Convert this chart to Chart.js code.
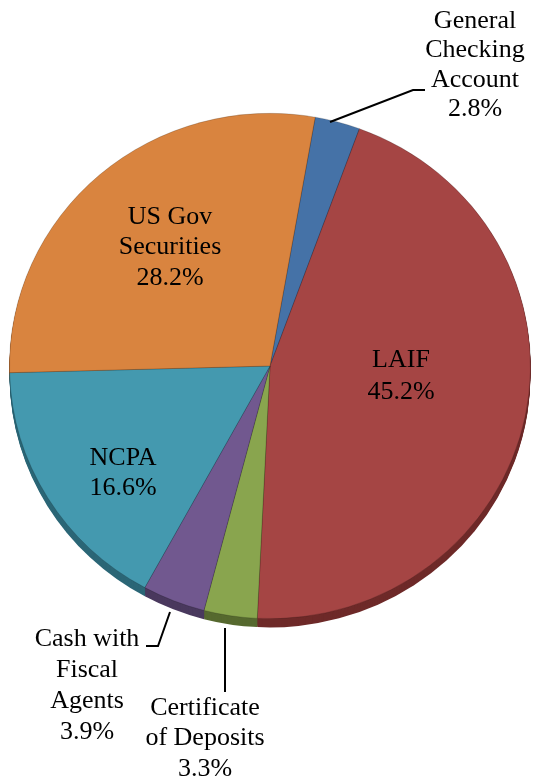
<!DOCTYPE html>
<html>
<head>
<meta charset="utf-8">
<script src="https://cdn.jsdelivr.net/npm/chart.js@4/dist/chart.umd.min.js"></script>
<style>
html,body{margin:0;padding:0;background:#fff;}
#wrap{width:535px;height:783px;position:relative;}
</style>
</head>
<body>
<div id="wrap"><canvas id="c" width="535" height="783"></canvas></div>
<script>
const categories = ["General Checking Account", "LAIF", "Certificate of Deposits", "Cash with Fiscal Agents", "NCPA", "US Gov Securities"];
const shares = [2.8, 45.2, 3.3, 3.9, 16.6, 28.2];
const labelLines = [
  ["General", "Checking", "Account", "2.8%"],
  ["LAIF", "45.2%"],
  ["Certificate", "of Deposits", "3.3%"],
  ["Cash with", "Fiscal", "Agents", "3.9%"],
  ["NCPA", "16.6%"],
  ["US Gov", "Securities", "28.2%"]
];
const colors = ["#4572A7", "#A54544", "#89A54E", "#71588F", "#4499AF", "#D9843F"];
const sideColors = ["#2E4D73", "#6E2A29", "#56692F", "#4A395E", "#2B6676", "#98592A"];

// label layout (text centre of first line, line spacing) and leader lines
const labelPos = [
  {x: 475, y: 21, lh: 29.5, leader: [[330,122],[413,90],[425,90]]},
  {x: 401, y: 360, lh: 32},
  {x: 205, y: 708, lh: 30.5, leader: [[225,628],[225,692]]},
  {x: 87, y: 639, lh: 31, leader: [[170,612],[158,646],[146,646]]},
  {x: 123, y: 458, lh: 30},
  {x: 170, y: 217, lh: 30.5}
];

const yScale = 0.97;
const depth = 9;

const piePlugin = {
  id: 'pie3d',
  beforeDatasetsDraw(chart) {
    const ctx = chart.ctx;
    const arcs = chart.getDatasetMeta(0).data;
    const cx = arcs[0].x, cy = arcs[0].y;
    ctx.save();
    ctx.translate(cx, cy);
    ctx.scale(1, yScale);
    ctx.translate(-cx, -cy);
    for (let d = depth; d >= 1; d--) {
      arcs.forEach((a, i) => {
        const p = a.getProps(['x','y','startAngle','endAngle','outerRadius'], true);
        ctx.beginPath();
        ctx.moveTo(p.x, p.y + d);
        ctx.arc(p.x, p.y + d, p.outerRadius, p.startAngle, p.endAngle);
        ctx.closePath();
        ctx.fillStyle = sideColors[i];
        ctx.fill();
      });
    }
  },
  afterDatasetsDraw(chart) {
    chart.ctx.restore();
  },
  afterDraw(chart) {
    const ctx = chart.ctx;
    ctx.save();
    ctx.fillStyle = '#000';
    ctx.font = '26px "Liberation Serif"';
    ctx.textAlign = 'center';
    ctx.textBaseline = 'middle';
    labelLines.forEach((lines, i) => {
      const lp = labelPos[i];
      lines.forEach((t, k) => ctx.fillText(t, lp.x, lp.y + k * lp.lh));
      if (lp.leader) {
        ctx.beginPath();
        ctx.lineWidth = 2;
        ctx.strokeStyle = '#000';
        lp.leader.forEach((pt, k) => k ? ctx.lineTo(pt[0], pt[1]) : ctx.moveTo(pt[0], pt[1]));
        ctx.stroke();
      }
    });
    ctx.restore();
  }
};

new Chart(document.getElementById('c'), {
  type: 'pie',
  data: {
    labels: categories,
    datasets: [{
      data: shares,
      backgroundColor: colors,
      borderColor: 'rgba(0,0,0,0.18)',
      borderWidth: 1
    }]
  },
  options: {
    responsive: false,
    animation: false,
    rotation: 10,
    layout: {padding: {left: 9, right: 4, top: 105, bottom: 156}},
    plugins: {legend: {display: false}, tooltip: {enabled: false}}
  },
  plugins: [piePlugin]
});
</script>
</body>
</html>
